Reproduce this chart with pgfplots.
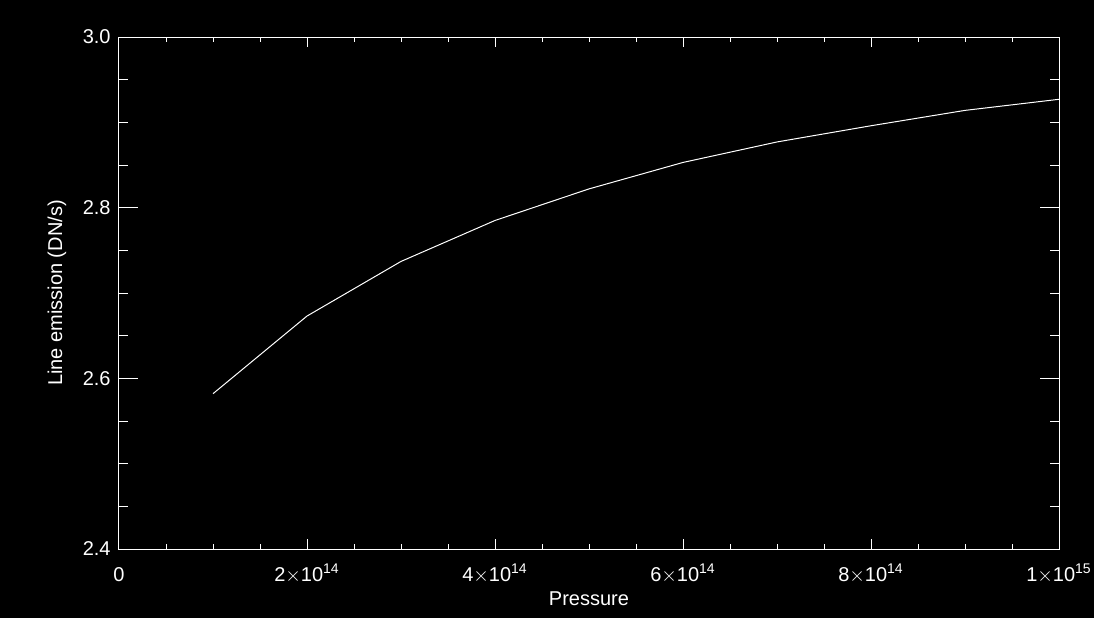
\documentclass[border=0pt]{standalone}
\usepackage{fontspec}
\setmainfont{Liberation Sans}
\usepackage{pgfplots}
\pgfplotsset{compat=1.18}

\begin{document}
\begin{tikzpicture}
\useasboundingbox (0,0) rectangle (547pt,309pt);
\fill[black] (0,0) rectangle (547pt,309pt);
\begin{axis}[
    at={(59.5pt,34.5pt)}, anchor=south west,
    scale only axis,
    width=470pt, height=256pt,
    xmin=0, xmax=1e15,
    ymin=2.4, ymax=3.0,
    scaled x ticks=false,
    xtick={0,2e14,4e14,6e14,8e14,1e15},
    xticklabels={0,2$\times$10\textsuperscript{14},4$\times$10\textsuperscript{14},6$\times$10\textsuperscript{14},8$\times$10\textsuperscript{14},1$\times$10\textsuperscript{15}},
    ytick={2.4,2.6,2.8,3.0},
    yticklabels={2.4,2.6,2.8,3.0},
    minor x tick num=3,
    minor y tick num=3,
    tick align=inside,
    major x tick style={/pgfplots/major tick length=5pt},
    minor x tick style={/pgfplots/minor tick length=2.5pt},
    major y tick style={/pgfplots/major tick length=9.5pt},
    minor y tick style={/pgfplots/minor tick length=4.5pt},
    axis line style={white, line width=0.5pt},
    tick style={white, line width=0.5pt},
    font=\fontsize{10}{12}\selectfont,
    xticklabel style={white, anchor=base, inner sep=0pt, yshift=-16pt},
    yticklabel style={white, anchor=east, inner sep=0pt, xshift=-4pt},
    xlabel={Pressure},
    ylabel={Line emission (DN/s)},
    xlabel style={white, at={(axis description cs:0.5,-0.111)}, anchor=base},
    ylabel style={white, at={(axis description cs:-0.066,0.5)}, anchor=center},
]
\addplot[white, line width=0.5pt, mark=none] coordinates {
    (1e14,2.582) (2e14,2.673) (3e14,2.737) (4e14,2.785) (5e14,2.822)
    (6e14,2.853) (7e14,2.877) (8e14,2.896) (9e14,2.914) (1e15,2.927)
};
\end{axis}
\end{tikzpicture}
\end{document}
